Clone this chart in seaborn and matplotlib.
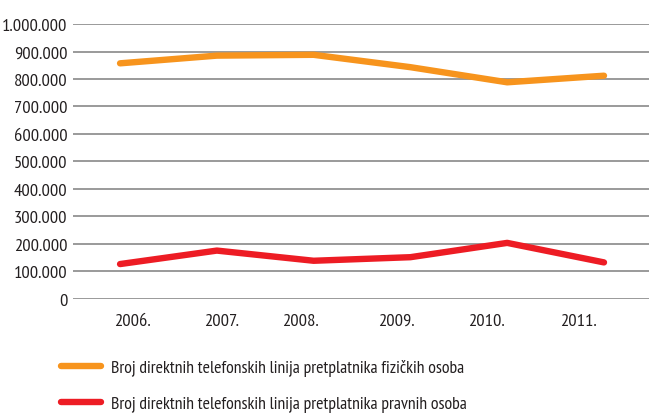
import matplotlib
matplotlib.use("Agg")
import matplotlib.pyplot as plt
import seaborn as sns
import pandas as pd

# Subscriber lines by year
years = ["2006.", "2007.", "2008.", "2009.", "2010.", "2011."]
fizicke = [857000, 885000, 888000, 843000, 788000, 812000]
pravne = [127000, 176000, 139000, 152000, 204000, 133000]
series_names = [
    "Broj direktnih telefonskih linija pretplatnika fizičkih osoba",
    "Broj direktnih telefonskih linija pretplatnika pravnih osoba",
]
y_ticks = [0, 100000, 200000, 300000, 400000, 500000, 600000, 700000, 800000, 900000, 1000000]
y_tick_labels = ["0", "100.000", "200.000", "300.000", "400.000", "500.000",
                 "600.000", "700.000", "800.000", "900.000", "1.000.000"]

# label placement tweaks along the year axis
label_shift = [0.13, 0.05, -0.14, -0.15, -0.21, -0.26]

sns.set_theme(style="white")
plt.rcParams["font.family"] = ["PT Sans Narrow", "DejaVu Sans"]
text_color = "#231f20"

df = pd.DataFrame({
    "pos": list(range(len(years))) * 2,
    "value": fizicke + pravne,
    "serija": [series_names[0]] * len(years) + [series_names[1]] * len(years),
})

fig = plt.figure(figsize=(6.49, 4.14), dpi=100)
ax = fig.add_axes([0.1125, 0.2754, 0.8875, 0.6642])

palette = {series_names[0]: "#F7941D", series_names[1]: "#ED1C24"}
sns.lineplot(data=df, x="pos", y="value", hue="serija", palette=palette,
             linewidth=4.6, ax=ax, legend=True, solid_capstyle="round")

ax.set_ylim(0, 1000000)
ax.set_xlim(-0.486, 5.465)
ax.set_yticks(y_ticks)
ax.set_yticklabels(y_tick_labels, fontsize=13.3, color=text_color)
ax.yaxis.grid(True, color="#9a9a9a", linewidth=1.4)
ax.xaxis.grid(False)
ax.set_axisbelow(True)
ax.tick_params(axis="y", length=0, pad=4)
ax.tick_params(axis="x", length=0, pad=10)
ax.set_xticks([i + s for i, s in enumerate(label_shift)])
ax.set_xticklabels(years, fontsize=13.3, color=text_color)
ax.set_xlabel("")
ax.set_ylabel("")
for sp in ax.spines.values():
    sp.set_visible(False)

handles, labels = ax.get_legend_handles_labels()
ax.get_legend().remove()
leg = fig.legend(handles, labels, loc="upper left", bbox_to_anchor=(0.094, 0.13),
                 frameon=False, fontsize=12.8, handlelength=2.25, handletextpad=0.56,
                 labelspacing=1.08, borderaxespad=0, borderpad=0)
for t in leg.get_texts():
    t.set_color(text_color)
for h in leg.get_lines():
    h.set_linewidth(4.6)
    h.set_solid_capstyle("round")

fig.savefig("out.png", dpi=100)
